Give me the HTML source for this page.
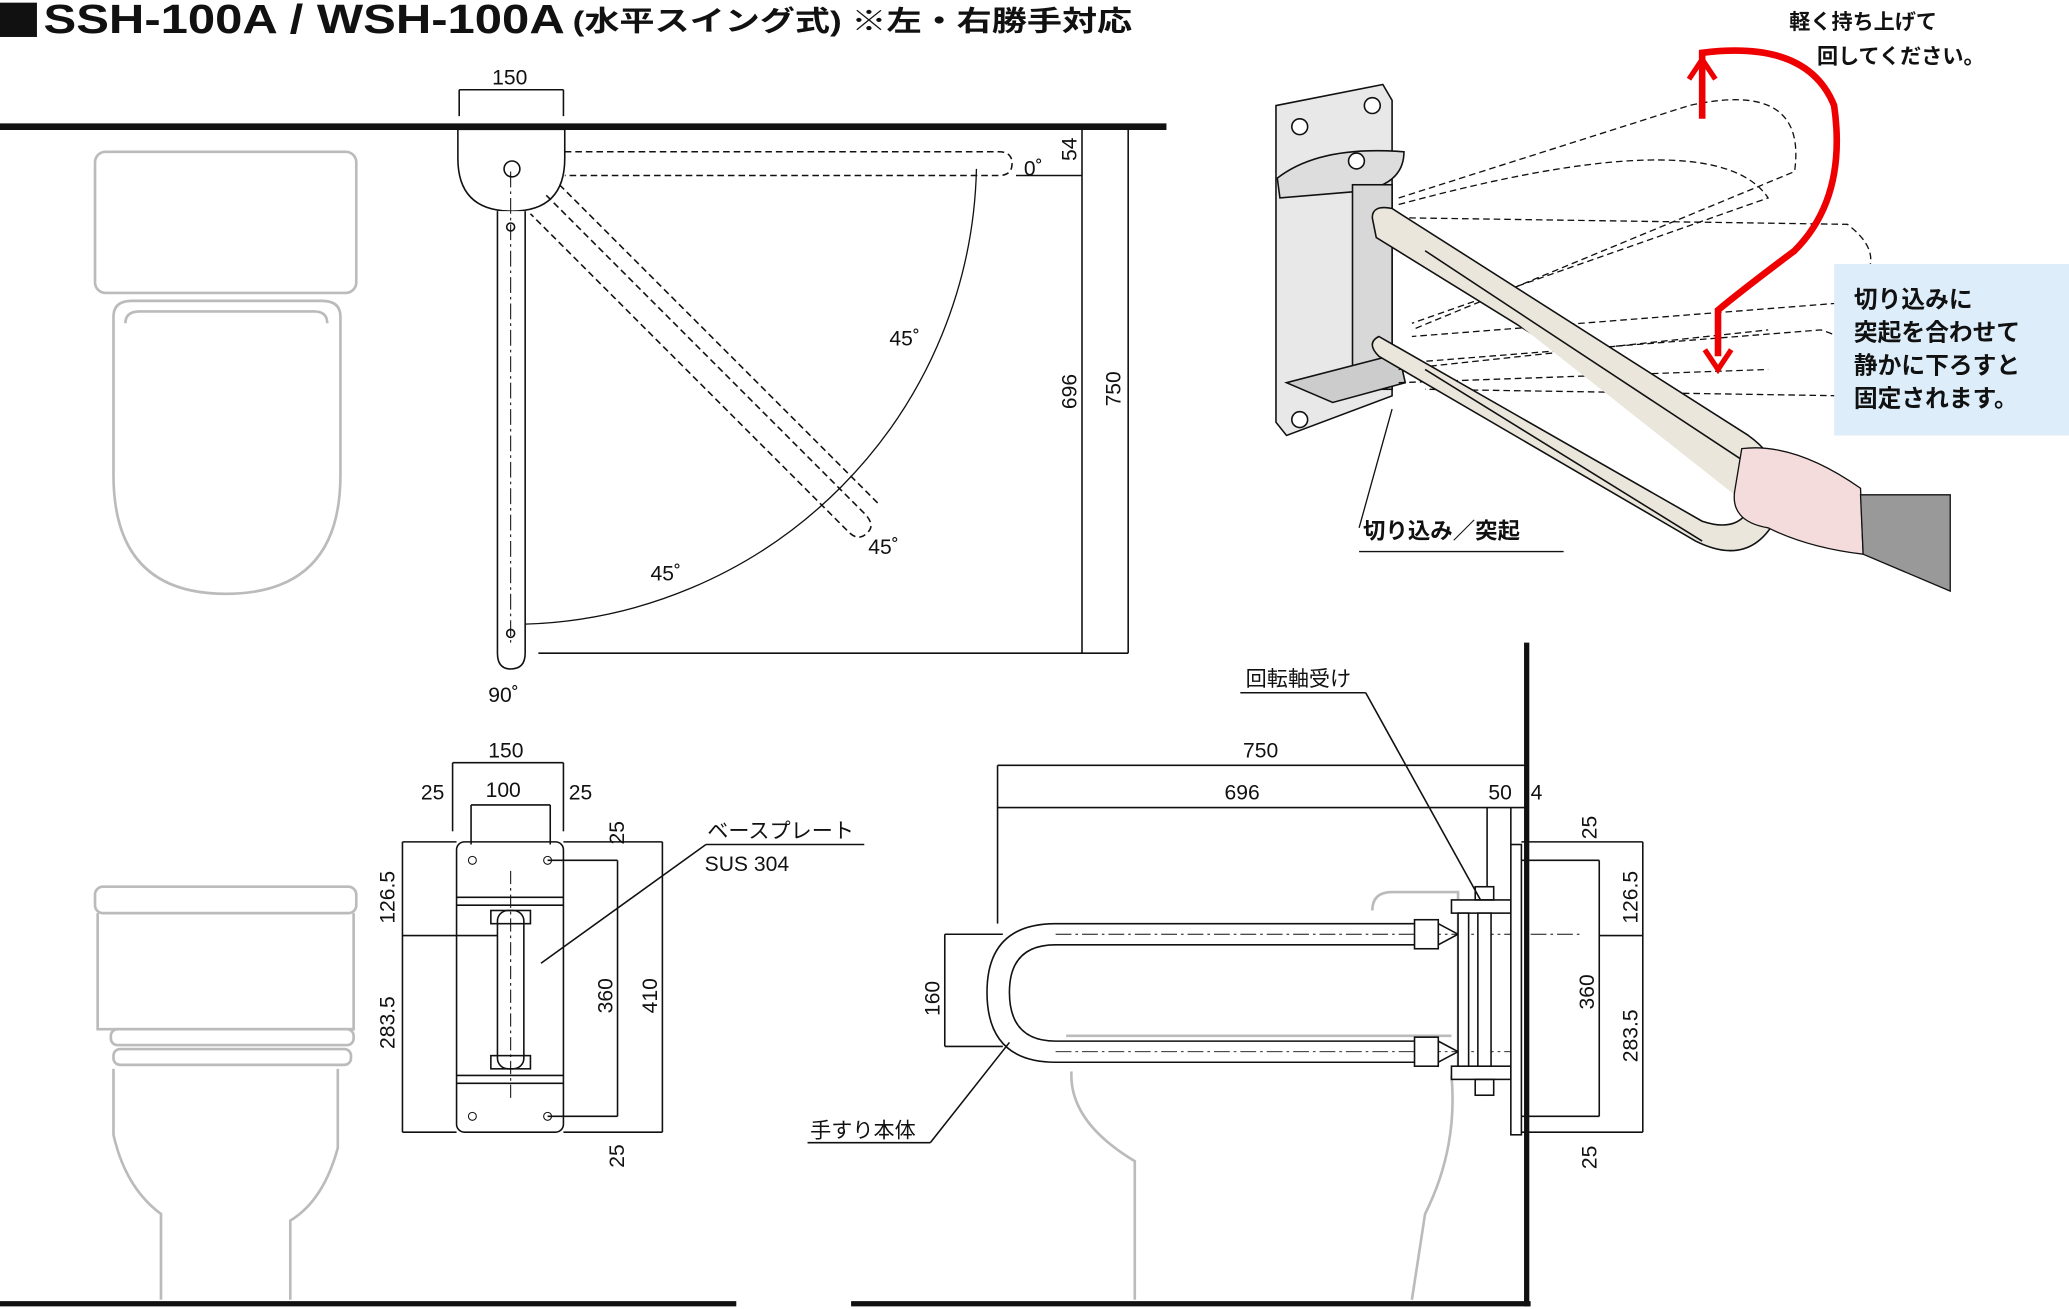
<!DOCTYPE html>
<html><head><meta charset="utf-8"><style>
html,body{margin:0;padding:0;background:#fff}
svg{display:block}
text{font-family:"Liberation Sans","Noto Sans CJK JP",sans-serif;fill:#111}
.j{font-family:"Liberation Sans","Noto Sans CJK JP",sans-serif}
</style></head><body>
<svg width="2069" height="1309" viewBox="0 0 1568 992" xmlns="http://www.w3.org/2000/svg">
<!-- title -->
<rect x="0" y="2" width="28" height="26" fill="#111"/>
<text x="33" y="25" font-size="31" font-weight="bold" textLength="395" lengthAdjust="spacingAndGlyphs">SSH-100A / WSH-100A</text>
<text x="434" y="23" font-size="21" font-weight="bold" class="j" textLength="424" lengthAdjust="spacingAndGlyphs">(水平スイング式) ※左・右勝手対応</text>
<line x1="0" y1="96" x2="884" y2="96" stroke="#111" stroke-width="5"/>

<!-- top-left toilet (plan) -->
<g fill="none" stroke="#bbb" stroke-width="2">
<rect x="72" y="115" width="198" height="107" rx="8"/>
<path d="M86 240 Q86 228 100 228 L244 228 Q258 228 258 240 L258 360 Q258 450 171 450 Q86 450 86 360 Z"/>
<path d="M95 245 Q95 236 106 236 L238 236 Q248 236 248 245"/>
</g>

<!-- top plan grab bar -->
<g stroke="#111" stroke-width="1.2" fill="none">
<path d="M347 98 L428 98 L428 120 Q428 160 388 160 Q347 160 347 120 Z" fill="#fff"/>
<circle cx="388" cy="128" r="6"/>
<path d="M377 160 L377 495 Q377 507 387 507 Q398 507 398 495 L398 160" fill="#fff"/>
<line x1="387" y1="130" x2="387" y2="490" stroke-dasharray="12 3 2 3" stroke-width="0.8"/>
<circle cx="387" cy="172" r="3"/>
<circle cx="387" cy="480" r="3"/>
<g stroke-dasharray="5 3">
<path d="M428 115 L757 115 Q767 115 767 124 Q767 133 757 133 L428 133"/>
<path d="M414 148 L655 389 Q664 398 657 404 Q650 411 642 402 L402 162"/>
<path d="M424 140 L667 383"/>
</g>
<path d="M398 473 A353 353 0 0 0 740 128" stroke-width="1"/>
<line x1="408" y1="495" x2="855" y2="495"/>
<line x1="820" y1="96" x2="820" y2="495"/>
<line x1="855" y1="96" x2="855" y2="495"/>
<line x1="770" y1="133" x2="820" y2="133"/>
<line x1="348" y1="68" x2="427" y2="68"/>
<line x1="348" y1="68" x2="348" y2="88"/><line x1="427" y1="68" x2="427" y2="88"/>
</g>
<text x="373" y="64" font-size="16">150</text>
<text x="776" y="133" font-size="16">0˚</text>
<text x="674" y="262" font-size="16">45˚</text>
<text x="658" y="420" font-size="16">45˚</text>
<text x="493" y="440" font-size="16">45˚</text>
<text x="370" y="532" font-size="16">90˚</text>
<text font-size="16" transform="translate(816,122) rotate(-90)">54</text>
<text font-size="16" transform="translate(816,310) rotate(-90)">696</text>
<text font-size="16" transform="translate(849,308) rotate(-90)">750</text>

<!-- bottom-left toilet side -->
<g fill="none" stroke="#bbb" stroke-width="2">
<rect x="72" y="672" width="198" height="20" rx="6"/>
<path d="M74 692 L74 780 L268 780 L268 692"/>
<rect x="84" y="780" width="184" height="12" rx="5"/>
<rect x="86" y="795" width="180" height="12" rx="5"/>
<path d="M86 810 L86 860 Q95 900 122 920 L122 985 M256 810 L256 870 Q245 910 220 925 L220 985"/>
</g>
<line x1="0" y1="988" x2="558" y2="988" stroke="#111" stroke-width="4"/>

<!-- base plate front -->
<g stroke="#111" stroke-width="1.2" fill="none">
<rect x="346" y="638" width="81" height="220" rx="6" fill="#fff"/>
<line x1="346" y1="680" x2="427" y2="680"/><line x1="346" y1="686" x2="427" y2="686"/>
<line x1="346" y1="815" x2="427" y2="815"/><line x1="346" y1="821" x2="427" y2="821"/>
<rect x="377" y="690" width="20" height="120" rx="8" fill="#fff"/>
<rect x="372" y="690" width="30" height="10"/><rect x="372" y="800" width="30" height="10"/>
<line x1="387" y1="660" x2="387" y2="835" stroke-dasharray="10 3 2 3" stroke-width="0.8"/>
<g stroke-width="0.8"><circle cx="358" cy="652" r="3"/><circle cx="415" cy="652" r="3"/><circle cx="358" cy="846" r="3"/><circle cx="415" cy="846" r="3"/></g>
<line x1="343" y1="578" x2="427" y2="578"/><line x1="343" y1="578" x2="343" y2="630"/><line x1="427" y1="578" x2="427" y2="630"/>
<line x1="357" y1="610" x2="417" y2="610"/><line x1="357" y1="610" x2="357" y2="640"/><line x1="417" y1="610" x2="417" y2="640"/>
<line x1="305" y1="638" x2="346" y2="638"/><line x1="305" y1="858" x2="346" y2="858"/><line x1="305" y1="638" x2="305" y2="858"/><line x1="305" y1="709" x2="377" y2="709"/>
<line x1="427" y1="638" x2="502" y2="638"/><line x1="427" y1="858" x2="502" y2="858"/><line x1="502" y1="638" x2="502" y2="858"/>
<line x1="415" y1="652" x2="468" y2="652"/><line x1="415" y1="846" x2="468" y2="846"/><line x1="468" y1="652" x2="468" y2="846"/>
<line x1="410" y1="730" x2="535" y2="640"/><line x1="535" y1="640" x2="655" y2="640"/>
</g>
<text x="370" y="574" font-size="16">150</text>
<text x="319" y="606" font-size="16">25</text><text x="368" y="604" font-size="16">100</text><text x="431" y="606" font-size="16">25</text>
<text font-size="16" transform="translate(473,640) rotate(-90)">25</text>
<text font-size="16" transform="translate(473,885) rotate(-90)">25</text>
<text font-size="16" transform="translate(299,700) rotate(-90)">126.5</text>
<text font-size="16" transform="translate(299,795) rotate(-90)">283.5</text>
<text font-size="16" transform="translate(464,768) rotate(-90)">360</text>
<text font-size="16" transform="translate(498,768) rotate(-90)">410</text>
<text x="536" y="635" font-size="16" class="j">ベースプレート</text>
<text x="534" y="660" font-size="16">SUS 304</text>

<!-- bottom-right side view -->
<g fill="none" stroke="#bbb" stroke-width="2">
<path d="M1040 690 Q1040 676 1055 676 L1105 676 L1105 810"/>
<path d="M808 785 L1100 785 M812 812 Q810 850 860 880 L860 985 M1100 815 Q1105 870 1080 920 L1070 985"/>
</g>
<line x1="1157" y1="487" x2="1157" y2="990" stroke="#111" stroke-width="4"/>
<line x1="645" y1="988" x2="1160" y2="988" stroke="#111" stroke-width="4"/>
<g stroke="#111" stroke-width="1.2" fill="none">
<path d="M1090 700 L800 700 Q748 700 748 752 Q748 805 800 805 L1090 805 L1090 789 L800 789 Q765 789 765 752 Q765 716 800 716 L1090 716 Z" fill="#fff"/>
<line x1="800" y1="708" x2="1200" y2="708" stroke-dasharray="12 3 2 3" stroke-width="0.7"/>
<line x1="800" y1="797" x2="1150" y2="797" stroke-dasharray="12 3 2 3" stroke-width="0.7"/>
<rect x="1072" y="697" width="18" height="22" fill="#fff"/><rect x="1072" y="786" width="18" height="22" fill="#fff"/>
<path d="M1090 700 L1105 708 L1090 716 M1090 789 L1105 797 L1090 805"/>
<rect x="1100" y="682" width="45" height="10" fill="#fff"/><rect x="1100" y="808" width="45" height="10" fill="#fff"/>
<rect x="1105" y="692" width="8" height="116" fill="#fff"/><rect x="1120" y="692" width="10" height="116" fill="#fff"/>
<rect x="1145" y="640" width="8" height="220" fill="#fff"/>
<rect x="1118" y="672" width="14" height="10"/><rect x="1118" y="818" width="14" height="12"/>
<line x1="756" y1="580" x2="1157" y2="580"/><line x1="756" y1="612" x2="1157" y2="612"/>
<line x1="756" y1="580" x2="756" y2="700"/><line x1="1157" y1="580" x2="1157" y2="612"/>
<line x1="1127" y1="612" x2="1127" y2="672"/><line x1="1145" y1="612" x2="1145" y2="640"/>
<line x1="716" y1="708" x2="760" y2="708"/><line x1="716" y1="793" x2="760" y2="793"/><line x1="716" y1="708" x2="716" y2="793"/>
<line x1="1153" y1="638" x2="1245" y2="638"/><line x1="1153" y1="858" x2="1245" y2="858"/><line x1="1245" y1="638" x2="1245" y2="858"/>
<line x1="1153" y1="652" x2="1212" y2="652"/><line x1="1153" y1="846" x2="1212" y2="846"/><line x1="1212" y1="652" x2="1212" y2="846"/>
<line x1="1212" y1="709" x2="1245" y2="709"/>
<line x1="1122" y1="682" x2="1035" y2="525"/><line x1="940" y1="525" x2="1035" y2="525"/>
<line x1="765" y1="790" x2="705" y2="866"/><line x1="612" y1="866" x2="705" y2="866"/>
</g>
<text x="942" y="574" font-size="16">750</text>
<text x="928" y="606" font-size="16">696</text>
<text x="1128" y="606" font-size="16">50</text><text x="1160" y="606" font-size="16">4</text>
<text font-size="16" transform="translate(712,770) rotate(-90)">160</text>
<text font-size="16" transform="translate(1210,636) rotate(-90)">25</text>
<text font-size="16" transform="translate(1210,886) rotate(-90)">25</text>
<text font-size="16" transform="translate(1241,700) rotate(-90)">126.5</text>
<text font-size="16" transform="translate(1208,765) rotate(-90)">360</text>
<text font-size="16" transform="translate(1241,805) rotate(-90)">283.5</text>
<text x="944" y="520" font-size="16" class="j">回転軸受け</text>
<text x="614" y="862" font-size="16" class="j">手すり本体</text>

<!-- top right illustration -->
<g stroke="#111" stroke-width="1.2">
<path d="M967 80 L1048 64 L1055 76 L1055 300 L975 330 L967 320 Z" fill="#e8e8e8"/>
<path d="M968 135 Q1000 110 1064 115 Q1064 140 1030 145 L970 150 Z" fill="#ddd"/>
<rect x="1025" y="140" width="30" height="155" fill="#d8d8d8"/>
<path d="M975 290 L1060 268 L1065 290 L1010 305 Z" fill="#ccc"/>
<g fill="#fff"><circle cx="985" cy="96" r="6"/><circle cx="1040" cy="80" r="6"/><circle cx="1028" cy="122" r="6"/><circle cx="985" cy="318" r="6"/></g>
</g>
<g fill="none" stroke="#111" stroke-width="1" stroke-dasharray="5 3">
<path d="M1060 150 L1280 80 Q1370 60 1360 130 L1070 250"/>
<path d="M1060 155 Q1300 90 1340 150 L1070 245"/>
<path d="M1060 165 L1400 170 Q1440 200 1390 230 L1070 255"/>
<path d="M1065 275 L1380 250 Q1440 270 1400 300 L1080 295"/>
<path d="M1060 280 L1340 250 M1060 290 L1340 280"/>
</g>
<g stroke="#111" stroke-width="1.2" fill="#eae6dc">
<path d="M1040 165 Q1040 155 1055 158 L1325 330 Q1360 355 1345 395 Q1325 430 1285 410 L1045 270 Q1035 260 1045 255 L1290 395 Q1320 405 1328 380 Q1335 360 1310 345 L1043 180 Z"/>
<path d="M1080 190 L1330 355 Q1350 370 1340 395 M1080 280 L1290 410"/>
</g>
<path d="M1320 340 Q1360 335 1410 370 L1412 420 Q1370 415 1340 400 Q1310 395 1315 370 Z" fill="#f5dcdc" stroke="#111"/>
<path d="M1410 375 L1478 375 L1478 448 L1412 420 Z" fill="#999" stroke="#111"/>
<path d="M1290 90 L1290 40 Q1370 30 1390 80 Q1400 150 1360 190 Q1320 220 1302 235 L1302 270" fill="none" stroke="#e00" stroke-width="5"/>
<path d="M1280 60 L1290 45 L1300 60 M1292 265 L1302 280 L1312 265" fill="none" stroke="#e00" stroke-width="4"/>
<text x="1356" y="22" font-size="16" font-weight="bold" class="j">軽く持ち上げて</text>
<text x="1377" y="48" font-size="16" font-weight="bold" class="j">回してください。</text>
<rect x="1390" y="200" width="178" height="130" fill="#ddeefa"/>
<g font-size="18" font-weight="bold" class="j">
<text x="1405" y="233">切り込みに</text>
<text x="1405" y="258">突起を合わせて</text>
<text x="1405" y="283">静かに下ろすと</text>
<text x="1405" y="308">固定されます。</text>
</g>
<line x1="1055" y1="310" x2="1030" y2="400" stroke="#111"/>
<line x1="1030" y1="418" x2="1185" y2="418" stroke="#111"/>
<text x="1033" y="408" font-size="17" font-weight="bold" class="j">切り込み／突起</text>
</svg>
</body></html>
